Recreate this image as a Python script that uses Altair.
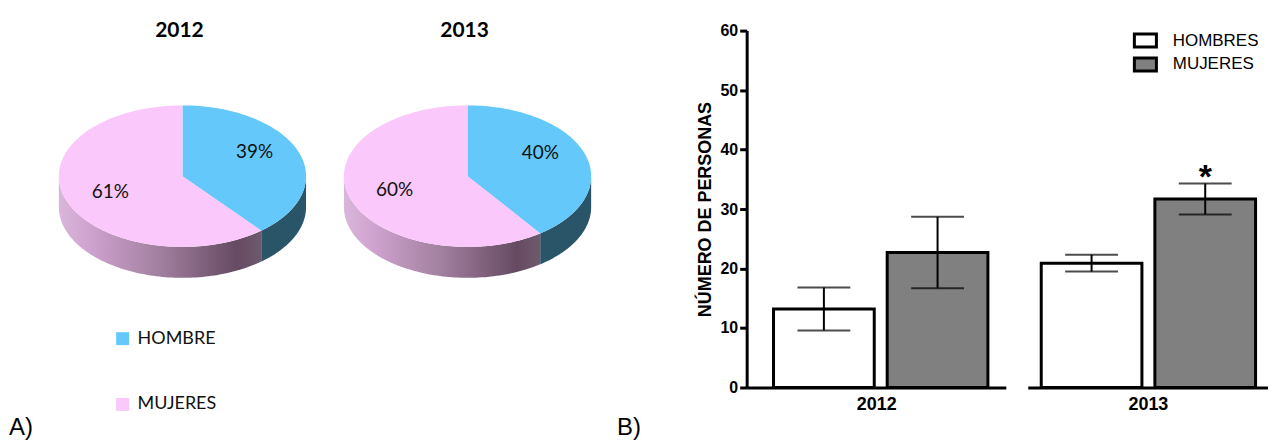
import altair as alt
import pandas as pd

# ---------------- data ----------------
pie_years = ["2012", "2013"]
pie_sexes = ["HOMBRE", "MUJERES"]
pie_pct_2012 = [39, 61]
pie_pct_2013 = [40, 60]

bar_sexes = ["HOMBRES", "MUJERES"]
bar_mean_2012 = [13.2, 22.7]
bar_sem_2012 = [3.6, 6.0]
bar_sig_2012 = ["", ""]
bar_mean_2013 = [20.9, 31.7]
bar_sem_2013 = [1.4, 2.6]
bar_sig_2013 = ["", "*"]
y_ticks = [0, 10, 20, 30, 40, 50, 60]

# ---------------- style / layout ----------------
BLUE = "#64C8FA"
PINK = "#FAC8FA"
BLUE_SIDE = "#2A5468"
PINK_SIDE = alt.LinearGradient(
    gradient="linear", x1=0, x2=1, y1=0, y2=0,
    stops=[
        alt.GradientStop(color="#DAB6DA", offset=0),
        alt.GradientStop(color="#CFA3CF", offset=0.15),
        alt.GradientStop(color="#A17F9F", offset=0.5),
        alt.GradientStop(color="#664A62", offset=0.88),
        alt.GradientStop(color="#6E5A6C", offset=1),
    ],
)

PLOT_H = 358
PIE_W = 669
A_PX = 124.0   # horizontal semi-axis of the pie, px
B_PX = 71.0    # vertical semi-axis of the pie, px
PIE_X0 = -175 / A_PX
PIE_X1 = PIE_X0 + PIE_W / A_PX
PIE_Y1 = 146 / B_PX
PIE_Y0 = PIE_Y1 - PLOT_H / B_PX
PIE_GAP = 286 / A_PX
DEPTH = 31 / B_PX
N = 90

xs = alt.Scale(domain=[PIE_X0, PIE_X1], nice=False, zero=False)
ys = alt.Scale(domain=[PIE_Y0, PIE_Y1], nice=False, zero=False)

# ---------------- panel A: pies ----------------
pie_df = pd.DataFrame({
    "year": [y for y in pie_years for _ in pie_sexes],
    "sex": pie_sexes * len(pie_years),
    "ord": list(range(len(pie_sexes))) * len(pie_years),
    "pct": pie_pct_2012 + pie_pct_2013,
})

pie_base = alt.Chart(pie_df).transform_window(
    cum="sum(pct)", groupby=["year"], sort=[alt.SortField("ord")], frame=[None, 0]
).transform_calculate(
    a0="2*PI*(datum.cum - datum.pct)/100",
    a1="2*PI*datum.cum/100",
    cx=f"(toNumber(datum.year) - {int(pie_years[0])}) * {PIE_GAP}",
)

top = pie_base.transform_calculate(
    k=f"sequence(0, {N + 3})"
).transform_flatten(["k"]).transform_calculate(
    on=f"datum.k > 0 && datum.k < {N + 2}",
    ang=f"datum.a0 + (datum.a1 - datum.a0) * clamp(datum.k - 1, 0, {N}) / {N}",
    px="datum.cx + (datum.on ? sin(datum.ang) : 0)",
    py="datum.on ? cos(datum.ang) : 0",
).mark_line(filled=True).encode(
    x=alt.X("px:Q", scale=xs, axis=None),
    y=alt.Y("py:Q", scale=ys, axis=None),
    color=alt.Color(
        "sex:N",
        scale=alt.Scale(domain=pie_sexes, range=[BLUE, PINK]),
        legend=alt.Legend(
            title=None, orient="none", legendX=106, legendY=300, direction="vertical",
            symbolType="square", symbolSize=169, symbolStrokeWidth=0,
            labelFont="Lato", labelFontSize=18, labelColor="#111111",
            labelOffset=6, rowPadding=48, padding=0,
        ),
    ),
    detail="year:N",
    order="k:Q",
)

side = pie_base.transform_calculate(
    s0="max(datum.a0, PI/2)", s1="min(datum.a1, 3*PI/2)"
).transform_filter("datum.s1 > datum.s0").transform_calculate(
    k=f"sequence(0, {2 * N + 2})"
).transform_flatten(["k"]).transform_calculate(
    j=f"datum.k <= {N} ? datum.k : {2 * N + 1} - datum.k",
    ang=f"datum.s0 + (datum.s1 - datum.s0) * datum.j / {N}",
    px="datum.cx + sin(datum.ang)",
    py=f"cos(datum.ang) - (datum.k > {N} ? {DEPTH} : 0)",
)
side_enc = dict(
    x=alt.X("px:Q", scale=xs, axis=None),
    y=alt.Y("py:Q", scale=ys, axis=None),
    detail="year:N",
    order="k:Q",
)
side_blue = side.transform_filter(alt.datum.sex == pie_sexes[0]).mark_line(
    filled=True, color=BLUE_SIDE).encode(**side_enc)
side_pink = side.transform_filter(alt.datum.sex == pie_sexes[1]).mark_line(
    filled=True, color=PINK_SIDE).encode(**side_enc)

pct_labels = pie_base.transform_calculate(
    mid="(datum.a0 + datum.a1) / 2",
    lx="datum.cx + 0.62 * sin(datum.mid)",
    ly="0.85 * cos(datum.mid) + 0.06",
    lbl="datum.pct + '%'",
).mark_text(font="Lato", fontSize=19, color="#111111").encode(
    x=alt.X("lx:Q", scale=xs, axis=None),
    y=alt.Y("ly:Q", scale=ys, axis=None),
    text="lbl:N",
)

pie_titles = pie_base.transform_filter("datum.ord == 0").mark_text(
    font="Lato", fontSize=21, fontWeight="bold", color="black", baseline="middle", dx=-3
).encode(
    x=alt.X("cx:Q", scale=xs, axis=None),
    y=alt.value(0.5),
    text="year:N",
)

one = pd.DataFrame({"n": [0]})
letter_a = alt.Chart(one).mark_text(
    text="A)", font="Liberation Sans", fontSize=24, align="left", color="black"
).encode(x=alt.value(1), y=alt.value(399))
letter_b = alt.Chart(one).mark_text(
    text="B)", font="Liberation Sans", fontSize=24, align="left", color="black"
).encode(x=alt.value(611), y=alt.value(399))

pie_panel = alt.layer(
    side_blue, side_pink, top, pct_labels, pie_titles, letter_a, letter_b
).properties(width=PIE_W, height=PLOT_H)


# ---------------- panel B: bars ----------------
def bar_panel(year, means, sems, sig, width, outer, align, first):
    df = pd.DataFrame({"sex": bar_sexes, "mean": means, "sem": sems, "sig": sig})
    base = alt.Chart(df).transform_calculate(
        lo="datum.mean - datum.sem", hi="datum.mean + datum.sem"
    )
    x = alt.X(
        "sex:N",
        scale=alt.Scale(domain=bar_sexes, paddingInner=0.114, paddingOuter=outer, align=align),
        axis=alt.Axis(
            title=year, labels=False, ticks=False, domainColor="black", domainWidth=3,
            titleFont="Liberation Sans", titleFontSize=18, titleFontWeight="bold",
            titleColor="black", titlePadding=8,
        ),
    )
    yscale = alt.Scale(domain=[0, 60], nice=False)
    if first:
        yaxis = alt.Axis(
            title="NÚMERO DE PERSONAS", values=y_ticks, grid=False,
            domainColor="black", domainWidth=3, tickColor="black", tickWidth=3, tickSize=7,
            labelFont="Liberation Sans", labelFontSize=16, labelFontWeight="bold",
            labelColor="black", labelPadding=2,
            titleFont="Liberation Sans", titleFontSize=18, titleFontWeight="bold",
            titleColor="black", titlePadding=5,
        )
        legend = None
    else:
        yaxis = None
        legend = alt.Legend(
            title=None, orient="none", legendX=109.5, legendY=1.5, direction="vertical",
            symbolType="M-1.7,-1H1.7V1H-1.7Z", symbolSize=169,
            symbolStrokeColor="black", symbolStrokeWidth=3,
            labelFont="Liberation Sans", labelFontSize=17, labelColor="black",
            labelOffset=19, rowPadding=-1, padding=0,
        )
    bars = base.mark_bar(stroke="black", strokeWidth=3).encode(
        x=x,
        y=alt.Y("mean:Q", scale=yscale, axis=yaxis),
        fill=alt.Fill("sex:N", scale=alt.Scale(domain=bar_sexes, range=["white", "#808080"]),
                      legend=legend),
    )
    err = base.mark_rule(color="black", strokeWidth=2).encode(
        x=x, y=alt.Y("lo:Q", scale=yscale, axis=yaxis), y2="hi:Q"
    )
    cap_hi = base.mark_tick(color="black", thickness=2, size=53, orient="horizontal").encode(
        x=x, y=alt.Y("hi:Q", scale=yscale, axis=yaxis)
    )
    cap_lo = base.mark_tick(color="black", thickness=2, size=53, orient="horizontal").encode(
        x=x, y=alt.Y("lo:Q", scale=yscale, axis=yaxis)
    )
    star = base.mark_text(
        font="Liberation Sans", fontSize=34, fontWeight="bold", baseline="alphabetic",
        dy=5, color="black"
    ).encode(x=x, y=alt.Y("hi:Q", scale=yscale, axis=yaxis), text="sig:N")
    return alt.layer(bars, err, cap_hi, cap_lo, star).properties(width=width, height=PLOT_H)


bar1 = bar_panel(pie_years[0], bar_mean_2012, bar_sem_2012, bar_sig_2012, 260, 0.197, 0.6, True)
bar2 = bar_panel(pie_years[1], bar_mean_2013, bar_sem_2013, bar_sig_2013, 241, 0.114, 0.52, False)

chart = alt.hconcat(pie_panel, bar1, bar2, spacing=22).resolve_scale(
    color="independent", fill="independent"
).properties(
    padding={"left": 0, "top": 11, "right": 0, "bottom": 0}
).configure_view(stroke=None)

chart.save("out.html", embed_options={"renderer": "svg", "actions": False})
